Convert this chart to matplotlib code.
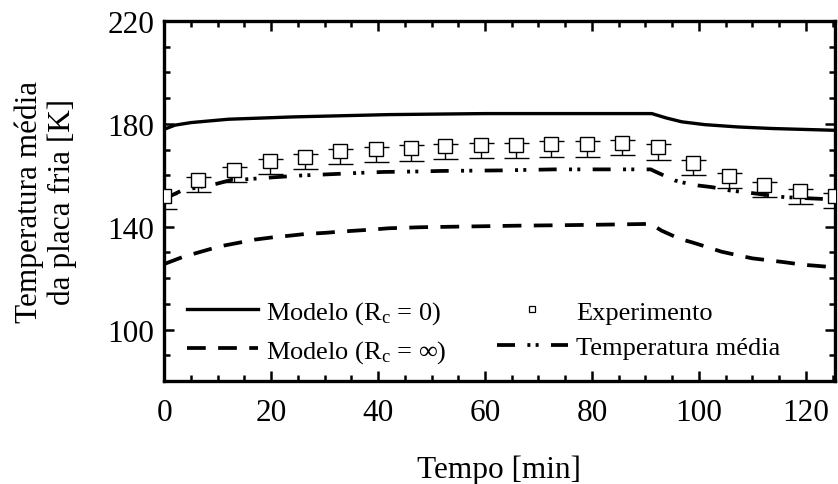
import matplotlib
matplotlib.use("Agg")
import matplotlib.pyplot as plt
from matplotlib.lines import Line2D
from matplotlib.ticker import MultipleLocator

plt.rcParams['font.family'] = ['Liberation Serif', 'DejaVu Serif']
plt.rcParams['mathtext.fontset'] = 'custom'
plt.rcParams['mathtext.rm'] = 'Liberation Serif'
plt.rcParams['mathtext.it'] = 'Liberation Serif:italic'

# Modelo (Rc = 0)
t_solid = [0, 2, 5, 12, 24, 42, 60, 91.2, 93.9, 96.8, 101.1, 107.3, 113.6, 125.4]
T_solid = [177.9, 179.5, 180.5, 181.8, 182.7, 183.6, 184.0, 184.0, 182.3, 180.8, 179.7, 178.8, 178.2, 177.5]

# Modelo (Rc = inf)
t_dash = [0, 3.3, 5.4, 8.6, 11, 14.5, 17, 20.4, 23.4, 26.5, 30, 33, 36, 39, 42, 48, 60, 66, 75, 82, 91,
          93, 96.4, 98.6, 101.7, 104.2, 107.7, 110, 113.6, 116, 119.5, 122, 125.4]
T_dash = [125.5, 128.1, 129.4, 131.3, 132.6, 134.0, 135.0, 135.9, 136.5, 137.2, 137.6, 138.1, 138.5, 138.9,
          139.4, 139.8, 140.2, 140.4, 140.6, 140.8, 141.1,
          138.5, 135.3, 134.0, 132.0, 130.3, 128.7, 127.7, 126.8, 126.2, 125.2, 124.8, 124.2]

# Temperatura media
t_mean = [0, 1.1, 3.3, 9.8, 12.7, 15, 21, 25.5, 33, 36, 41, 48, 52, 63, 73, 83, 91,
          92, 95.5, 98, 100, 102.4, 105.8, 109.5, 112.5, 116, 120, 125.4]
T_mean = [150.6, 151.9, 154.1, 156.7, 158.3, 158.4, 159.3, 159.9, 160.6, 160.9, 161.3, 161.5, 161.7, 161.9,
          162.3, 162.3, 162.3, 161.3, 158.0, 156.7, 156.0, 155.4, 154.1, 153.2, 152.4, 151.5, 151.1, 150.6]

# Experimento
t_exp = [0, 6.4, 13.1, 19.8, 26.4, 32.9, 39.6, 46.1, 52.6, 59.3, 65.8, 72.3, 79.0, 85.7, 92.3,
         98.9, 105.6, 112.2, 118.9, 125.4]
T_exp = [151.9, 158.3, 162.2, 165.4, 167.3, 169.3, 170.1, 170.6, 171.2, 171.6, 171.6, 172.2, 172.2, 172.6,
         171.0, 164.9, 159.9, 156.3, 153.7, 152.1]
err_low = [4.9] * len(t_exp)
err_up = [1.0] * len(t_exp)

xticks = [0, 20, 40, 60, 80, 100, 120]
yticks = [100, 140, 180, 220]

fig = plt.figure(figsize=(8.38, 4.85), dpi=100)
ax = fig.add_axes([0.196, 0.2124, 0.8, 0.7422])

lw_s = 2.4
lw_d = 2.7
dash_style = (0, (5.0, 3.3))
mean_style = (0, (4.8, 3.3, 0.8, 1.4, 0.8, 3.3))
ax.plot(t_solid, T_solid, color='black', lw=lw_s, solid_capstyle='butt')
ax.plot(t_dash, T_dash, color='black', lw=lw_d, linestyle=dash_style, dash_capstyle='butt')
ax.plot(t_mean, T_mean, color='black', lw=lw_d, linestyle=mean_style, dash_capstyle='butt')
ax.errorbar(t_exp, T_exp, yerr=[err_low, err_up], fmt='s', ms=9.5, mfc='white', mec='black', mew=1.0,
            ecolor='black', elinewidth=1.0, capsize=9, capthick=1.0, zorder=3)

ax.set_xlim(0, 125.4)
ax.set_ylim(80, 220)
ax.set_xticks(xticks)
ax.set_yticks(yticks)
ax.xaxis.set_minor_locator(MultipleLocator(5))
ax.yaxis.set_minor_locator(MultipleLocator(10))
ax.tick_params(which='both', direction='in', top=True, right=True, width=1.8,
               labelsize=22.5)
ax.tick_params(axis='x', which='major', pad=12)
ax.tick_params(axis='y', which='major', pad=7)
ax.tick_params(which='major', length=7)
ax.tick_params(which='minor', length=4)
for s in ax.spines.values():
    s.set_linewidth(2.4)

ax.set_xlabel('Tempo [min]', fontsize=22.5, labelpad=20)
ax.set_ylabel('Temperatura média\nda placa fria [K]', fontsize=22.5, labelpad=22, linespacing=1.15)

handles = [
    Line2D([], [], color='black', lw=lw_s),
    Line2D([], [], color='black', lw=lw_d, linestyle=dash_style),
    Line2D([], [], marker='s', ms=5, mfc='white', mec='black', mew=0.9, linestyle='none'),
    Line2D([], [], color='black', lw=lw_d, linestyle=mean_style),
]
labels = ['Modelo (R$_\\mathrm{c}$ = 0)', 'Modelo (R$_\\mathrm{c}$ = ∞)', 'Experimento', 'Temperatura média']
ax.legend(handles, labels, ncol=2, frameon=False, fontsize=19, loc='lower left',
          bbox_to_anchor=(0.034, 0.045), handlelength=2.7, handletextpad=0.3,
          columnspacing=1.9, labelspacing=0.45, borderaxespad=0.0, borderpad=0.0)

fig.savefig('out.png', dpi=100)
